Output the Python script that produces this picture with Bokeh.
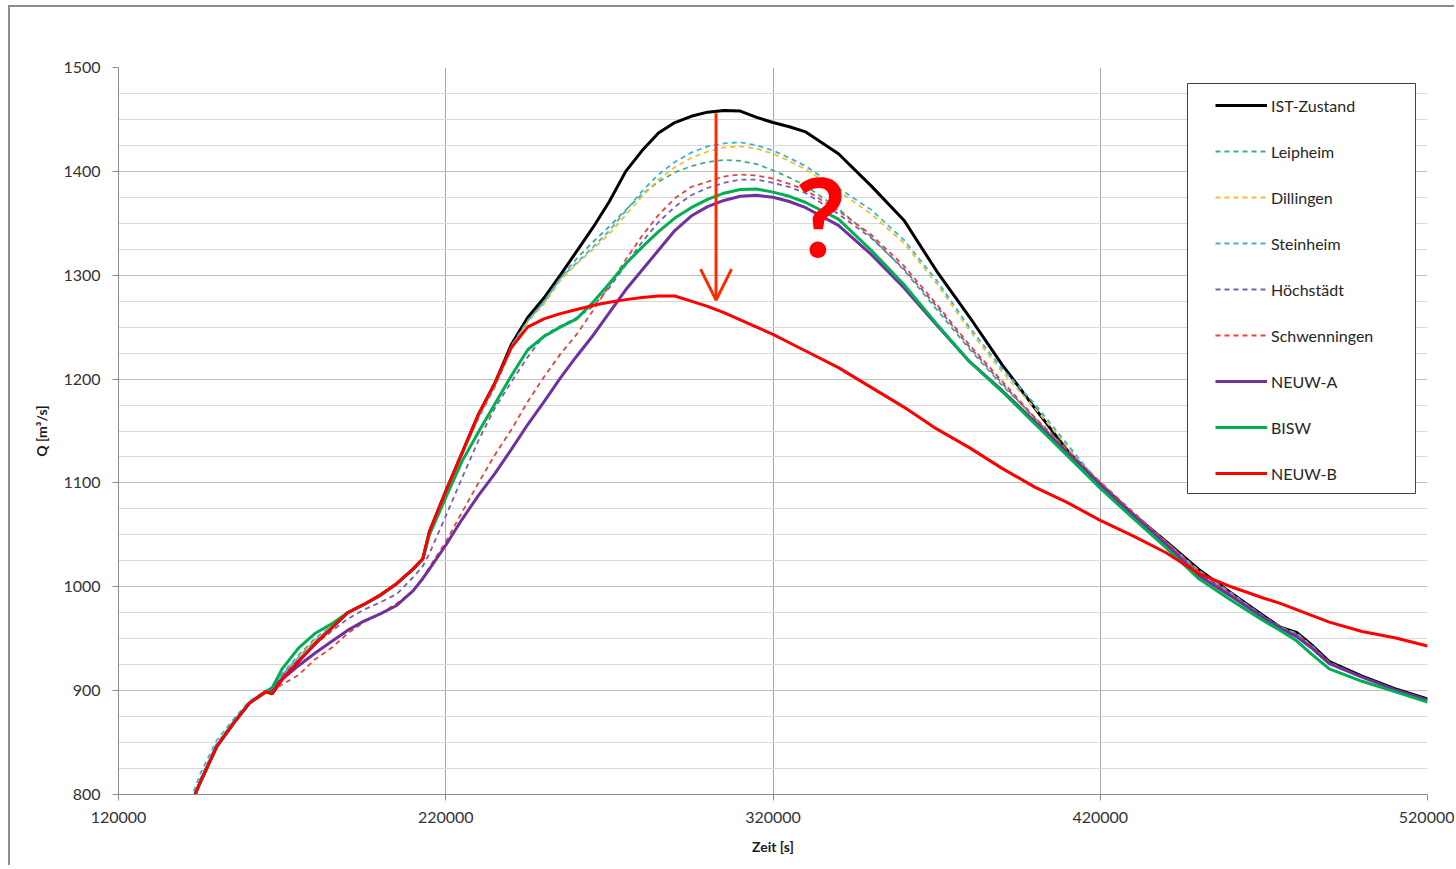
from bokeh.plotting import figure
from bokeh.models import (FixedTicker, NumeralTickFormatter, Legend, LegendItem,
                          Arrow, OpenHead, Label, Range1d, BoxAnnotation)
from bokeh.embed import file_html
from bokeh.resources import INLINE

# time [s]
T = [143000, 145000, 150000, 155000, 160000, 165000, 167000, 170000, 175000, 180000,
     185000, 190000, 195000, 200000, 205000, 210000, 213000, 215000, 220000, 225000,
     230000, 235000, 240000, 245000, 250000, 255000, 260000, 265000, 270000, 275000,
     280000, 285000, 290000, 295000, 300000, 305000, 310000, 315000, 320000, 325000,
     330000, 340000, 350000, 360000, 370000, 380000, 390000, 400000, 410000, 420000,
     430000, 440000, 450000, 460000, 470000, 475000, 480000, 485000, 490000, 500000,
     510000, 520000]

ist_zustand = [797, 812, 846, 868, 888, 899, 897, 911, 928, 945,
               960, 975, 983, 992, 1003, 1017, 1027, 1053, 1092, 1129,
               1166, 1196, 1233, 1259, 1278, 1300, 1323, 1346, 1371, 1400,
               1420, 1437, 1447, 1453, 1457, 1458.5, 1458, 1452, 1447, 1443,
               1438, 1417, 1386, 1353, 1304, 1260, 1214, 1172, 1131, 1099,
               1070, 1044, 1017, 994, 972, 961, 956, 943, 928, 914,
               902, 892]

leipheim = [797, 815, 849, 870, 889, 899, 902, 916, 934, 950,
            962, 975, 983, 992, 1003, 1017, 1027, 1052, 1090, 1127,
            1162, 1192, 1229, 1255, 1275, 1297, 1316, 1332, 1347, 1363,
            1378, 1390, 1399, 1405, 1409, 1411, 1410, 1407, 1401, 1394,
            1386, 1364, 1337, 1305, 1267, 1229, 1194, 1163, 1132, 1099,
            1070, 1043, 1015, 993, 971, 961, 954, 942, 927, 913,
            901, 891]

dillingen = [797, 813, 847, 869, 888, 899, 900, 914, 932, 948,
             961, 975, 983, 992, 1003, 1017, 1027, 1052, 1091, 1128,
             1164, 1194, 1231, 1255, 1272, 1295, 1311, 1325, 1340, 1358,
             1376, 1392, 1404, 1413, 1419, 1423, 1424, 1422, 1417, 1410,
             1402, 1381, 1359, 1331, 1292, 1247, 1207, 1172, 1135, 1097,
             1068, 1043, 1016, 993, 971, 961, 955, 942, 927, 913,
             901, 891]

steinheim = [803, 820, 852, 872, 890, 900, 902, 915, 932, 948,
             961, 975, 983, 992, 1003, 1017, 1027, 1052, 1091, 1128,
             1164, 1194, 1232, 1256, 1274, 1297, 1312, 1327, 1343, 1362,
             1381, 1397, 1409, 1418, 1424, 1427, 1428, 1425, 1420, 1413,
             1405, 1384, 1363, 1334, 1295, 1250, 1210, 1176, 1137, 1098,
             1069, 1043, 1016, 994, 971, 961, 955, 942, 927, 913,
             901, 891]

hoechstaedt = [797, 812, 846, 868, 888, 899, 901, 914, 930, 944,
               957, 969, 978, 985, 993, 1009, 1020, 1032, 1068, 1105,
               1141, 1172, 1197, 1221, 1242, 1251, 1259, 1270, 1288, 1310,
               1332, 1351, 1366, 1377, 1384, 1389, 1392, 1392, 1389, 1385,
               1379, 1359, 1336, 1306, 1270, 1231, 1196, 1162, 1130, 1100,
               1071, 1043, 1014, 992, 970, 960, 953, 941, 926, 913,
               901, 891]

schwenningen = [797, 812, 846, 868, 888, 899, 900, 906, 915, 930,
                941, 955, 966, 974, 984, 996, 1008, 1019, 1043, 1072,
                1100, 1127, 1151, 1178, 1202, 1224, 1243, 1266, 1290, 1315,
                1338, 1358, 1374, 1385, 1390, 1395, 1397, 1396, 1393, 1388,
                1382, 1362, 1339, 1309, 1272, 1233, 1198, 1163, 1131, 1101,
                1072, 1044, 1015, 993, 971, 961, 954, 942, 927, 913,
                901, 891]

neuw_a = [797, 812, 846, 868, 888, 899, 901, 911, 924, 936,
          947, 958, 967, 974, 982, 996, 1008, 1017, 1040, 1065,
          1088, 1109, 1132, 1156, 1178, 1201, 1222, 1242, 1264, 1286,
          1305, 1324, 1343, 1357, 1366, 1372, 1376, 1377, 1375, 1371,
          1365, 1348, 1320, 1288, 1252, 1217, 1189, 1159, 1129, 1098,
          1069, 1041, 1011, 991, 970, 960, 952, 940, 926, 913,
          901, 891]

bisw = [797, 812, 846, 868, 888, 899, 903, 921, 941, 955,
        964, 975, 983, 991.5, 1003, 1017, 1027, 1050, 1086, 1121,
        1149, 1176, 1203, 1228, 1241, 1250, 1258, 1274, 1292, 1311,
        1327, 1342, 1355, 1365, 1373, 1379, 1382.5, 1383, 1380, 1376,
        1370, 1354, 1324, 1291, 1253, 1217, 1188, 1157, 1126, 1095,
        1066, 1038, 1008, 987, 967, 958, 948, 934, 921, 909,
        899, 889]

neuw_b = [797, 812, 846, 868, 888, 899, 897, 911, 928, 945,
          960, 975, 983, 992, 1003, 1017, 1027, 1053, 1092, 1129,
          1166, 1196, 1230, 1250, 1258, 1263, 1267, 1271, 1274, 1276.5,
          1278.5, 1280, 1280, 1275, 1270, 1264, 1257, 1250, 1243, 1235,
          1227, 1211, 1192, 1173, 1152, 1134, 1114, 1096, 1081, 1064,
          1049, 1033, 1013, 1000, 989, 984, 978, 972, 966, 957,
          951, 943]

names = ["IST-Zustand", "Leipheim", "Dillingen", "Steinheim", "Höchstädt",
         "Schwenningen", "NEUW-A", "BISW", "NEUW-B"]
values = [ist_zustand, leipheim, dillingen, steinheim, hoechstaedt,
          schwenningen, neuw_a, bisw, neuw_b]
colors = ["#000000", "#3fae84", "#f4bf2a", "#33b6e6", "#7a5cb4",
          "#e8423c", "#7030a0", "#00b050", "#ff0000"]
widths = [3, 1.8, 1.8, 1.8, 1.8, 1.8, 3, 3, 3]
dashes = ["solid", "5 4", "5 4", "5 4", "5 4", "5 4", "solid", "solid", "solid"]

x_ticks = [120000, 220000, 320000, 420000, 520000]
y_ticks = [800, 900, 1000, 1100, 1200, 1300, 1400, 1500]
y_minor = list(range(800, 1501, 25))

# annotation positions (arrow, question mark, legend frame)
arrow_x, arrow_y0, arrow_y1 = 302600, 1456, 1276
qmark_x, qmark_y = 334500, 1359
legend_box = dict(left=446660, right=516330, top=1484.6, bottom=1089.8)

FONT = "Lato"

p = figure(width=1446, height=860, output_backend="svg", toolbar_location=None,
           x_range=Range1d(120000, 520000), y_range=Range1d(800, 1500),
           min_border_left=108, min_border_right=29, min_border_top=60,
           min_border_bottom=73)
p.styles = {"border-left": "2px solid #8c8c8c", "border-top": "2px solid #8c8c8c",
            "margin-left": "8px", "margin-top": "5px"}
p.outline_line_color = None
p.background_fill_color = "white"
p.border_fill_color = "white"

p.xaxis.ticker = FixedTicker(ticks=x_ticks)
p.yaxis.ticker = FixedTicker(ticks=y_ticks, minor_ticks=y_minor)
p.xaxis.formatter = NumeralTickFormatter(format="0")
p.yaxis.formatter = NumeralTickFormatter(format="0")

for ax in (p.xaxis, p.yaxis):
    ax.axis_line_color = "#8c8c8c"
    ax.major_tick_line_color = "#8c8c8c"
    ax.major_tick_in = 0
    ax.major_tick_out = 6
    ax.minor_tick_line_color = None
    ax.major_label_text_font = FONT
    ax.major_label_text_font_size = "16px"
    ax.major_label_text_color = "#333333"
    ax.axis_label_text_font = FONT
    ax.axis_label_text_font_size = "14px"
    ax.axis_label_text_font_style = "bold"
    ax.axis_label_text_color = "#1a1a1a"

p.xaxis.axis_label = "Zeit [s]"
p.yaxis.axis_label = "Q [m³/s]"
p.xaxis.major_label_standoff = 11
p.yaxis.major_label_standoff = 12
p.xaxis.axis_label_standoff = 12
p.yaxis.axis_label_standoff = 10

p.xgrid.grid_line_color = "#a6a6a6"
p.ygrid.grid_line_color = "#bfbfbf"
p.ygrid.minor_grid_line_color = "#d9d9d9"

items = []
for name, vals, col, w, d in zip(names, values, colors, widths, dashes):
    r = p.line(T, vals, line_color=col, line_width=w, line_dash=d)
    items.append(LegendItem(label=name, renderers=[r]))

# legend frame
p.add_layout(BoxAnnotation(**legend_box, fill_color="white", fill_alpha=1.0,
                           line_color="#404040", line_width=1, line_alpha=1.0))

legend = Legend(items=items, location="top_right", margin=28, padding=0,
                spacing=26, glyph_width=52, glyph_height=20, label_height=20,
                label_width=128, label_standoff=4,
                label_text_font=FONT, label_text_font_size="16px",
                label_text_color="#262626",
                border_line_color=None, background_fill_alpha=0.0)
p.add_layout(legend)

p.add_layout(Arrow(end=OpenHead(size=31, line_color="#ff2a00", line_width=3),
                   x_start=arrow_x, y_start=arrow_y0, x_end=arrow_x, y_end=arrow_y1,
                   line_color="#ff2a00", line_width=3))
p.add_layout(Label(x=qmark_x, y=qmark_y, text="?", text_font=FONT,
                   text_font_size="110px", text_font_style="bold",
                   text_color="#ff0000", text_align="center",
                   text_baseline="middle"))

open("out.html", "w").write(file_html(p, INLINE))
